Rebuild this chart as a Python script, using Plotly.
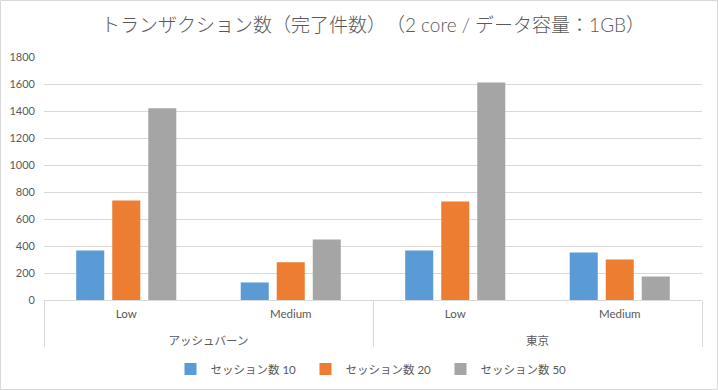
import plotly.graph_objects as go

regions = ["アッシュバーン", "アッシュバーン", "東京", "東京"]
loads = ["Low", "Medium", "Low", "Medium"]
series_names = ["セッション数 10", "セッション数 20", "セッション数 50"]
sessions10 = [367, 130, 367, 352]
sessions20 = [737, 280, 730, 300]
sessions50 = [1420, 448, 1612, 174]
colors = ["#5B9BD5", "#ED7D31", "#A5A5A5"]
y_ticks = [0, 200, 400, 600, 800, 1000, 1200, 1400, 1600, 1800]

W, H = 718, 390
L, R, T, B = 44, 16, 57, 90
pw, ph = W - L - R, H - T - B

# inner-level labels get an empty second line so the outer level sits lower, as in the original
inner_labels = [l + "<br>\u00a0" for l in loads]

fig = go.Figure()
for name, vals, c in zip(series_names, [sessions10, sessions20, sessions50], colors):
    fig.add_trace(go.Bar(x=[regions, inner_labels], y=vals, name=name,
                         marker=dict(color=c, line=dict(width=0))))

font_fam = "Lato, 'Noto Sans CJK JP', sans-serif"
fig.update_layout(
    width=W, height=H,
    margin=dict(l=L, r=R, t=T, b=B, pad=0, autoexpand=False),
    paper_bgcolor="white", plot_bgcolor="white",
    barmode="group", bargap=0.343, bargroupgap=0.222,
    font=dict(family=font_fam, size=11, color="#595959"),
    title=dict(text="トランザクション数（完了件数）　（2 core / データ容量：1GB）",
               x=0.5, xref="paper", yref="container", y=1 - 25 / H, yanchor="middle",
               font=dict(size=19, color="#595959", family=font_fam, weight=300)),
    legend=dict(orientation="h", x=0.5, xanchor="center", yref="container", y=1 - 369 / H, yanchor="middle",
                font=dict(size=11.5, color="#595959"), itemwidth=30, traceorder="normal",
                entrywidth=90, entrywidthmode="pixels"),
    xaxis=dict(type="multicategory", showline=True, linecolor="#D9D9D9", linewidth=1,
               showdividers=True, dividercolor="#D9D9D9", dividerwidth=1, automargin=False,
               tickfont=dict(size=11.5, color="#595959"), showgrid=False, ticks="", ticklabelstandoff=3),
    yaxis=dict(range=[0, 1800], tickvals=y_ticks, showgrid=True, gridcolor="#D9D9D9", gridwidth=1,
               zeroline=False, showline=False, ticks="", ticklabelstandoff=8, automargin=False,
               tickfont=dict(size=11, color="#595959")),
    shapes=[dict(type="rect", xref="paper", yref="paper",
                 x0=(0.5 - L) / pw, x1=(W - 0.5 - L) / pw,
                 y0=(T + ph - (H - 0.5)) / ph, y1=(T + ph - 0.5) / ph,
                 line=dict(color="#D9D9D9", width=1), layer="below")],
)
fig.write_html("out.html", config={"displayModeBar": False},
               post_script="document.body.style.margin='0';document.body.style.overflow='hidden';")
